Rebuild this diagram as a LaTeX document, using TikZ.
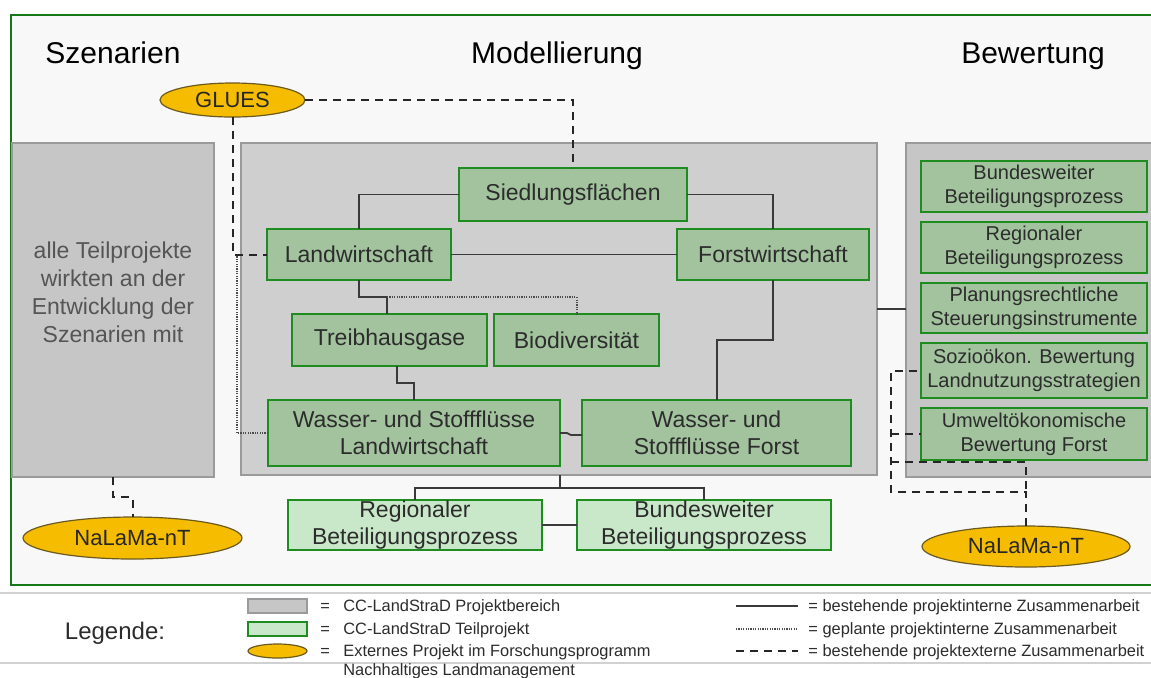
\documentclass[tikz,border=0pt]{standalone}
\usepackage{fontspec}
\setmainfont{Liberation Sans}
\usetikzlibrary{shapes.geometric}
\definecolor{frameg}{HTML}{167816}
\definecolor{bggray}{HTML}{F8F8F8}
\definecolor{boxgray}{HTML}{C6C6C6}
\definecolor{boxline}{HTML}{9A9A9A}
\definecolor{midgreen}{HTML}{A2C39E}
\definecolor{lightgreen}{HTML}{C9E7C9}
\definecolor{gbord}{HTML}{1F8C1F}
\definecolor{gold}{HTML}{F5BC00}
\definecolor{goldline}{HTML}{6B5A1E}
\definecolor{linegray}{HTML}{3A3A3A}
\definecolor{txtgray}{HTML}{2C2C2C}
\definecolor{softtxt}{HTML}{555555}
\newcommand\mybox[7]{%
  \node[#1, minimum width={(#5-#3)*0.5pt}, minimum height={(#6-#4)*0.5pt}]
    (#2) at ({(#3+#5)/2},{(#4+#6)/2}) {#7};}
\tikzset{
  base/.style={inner sep=0pt, outer sep=0pt, rectangle},
  graybox/.style={base, fill=boxgray, draw=boxline, line width=0.9pt},
  gbox/.style={base, fill=midgreen, draw=gbord, line width=1.4pt, text=txtgray,
    align=center, font=\fontsize{11.5}{13.5}\selectfont},
  rbox/.style={gbox, font=\fontsize{10}{12}\selectfont},
  lbox/.style={base, fill=lightgreen, draw=gbord, line width=0.9pt, text=txtgray,
    align=center, font=\fontsize{11.5}{13.5}\selectfont},
  ext/.style={ellipse, inner sep=0pt, outer sep=0pt, fill=gold, draw=goldline,
    line width=0.6pt, text=black!85, font=\fontsize{11}{13}\selectfont},
  heading/.style={anchor=base, text=black, font=\fontsize{15}{18}\selectfont},
  conn/.style={draw=linegray, line width=0.9pt},
  dashconn/.style={draw=black!85, line width=1pt, dash pattern=on 4pt off 3pt},
  dotconn/.style={draw=black!70, line width=1pt, dash pattern=on 0.6pt off 0.6pt},
  legtext/.style={anchor=base west, text=txtgray, font=\fontsize{8.2}{10}\selectfont, inner sep=0pt},
}
\begin{document}
\begin{tikzpicture}[x=0.5pt,y=-0.5pt]
\useasboundingbox (0,0) rectangle (1151,677);
\fill[white] (0,0) rectangle (1151,677);
% frame
\draw[fill=bggray, draw=frameg, line width=1.2pt] (11,15) rectangle (1160,585);
% headings
\node[heading] (h1) at (113,63) {Szenarien};
\node[heading] (h2) at (557,63) {Modellierung};
\node[heading] (h3) at (1033,63) {Bewertung};
% gray areas
\mybox{graybox}{scen}{12}{143}{214}{477}{}
\mybox{graybox, fill=boxgray!85!white}{model}{241}{143}{877}{475}{}
\mybox{graybox}{bew}{906}{143}{1158}{477}{}
\node[text=softtxt, align=center, font=\fontsize{11.5}{14}\selectfont] (scentxt) at (113,292)
  {alle Teilprojekte\\wirkten an der\\Entwicklung der\\Szenarien mit};
% green boxes (Modellierung)
\mybox{gbox}{sied}{459}{168}{687}{221}{Siedlungsflächen}
\mybox{gbox}{land}{267}{229}{451}{280}{Landwirtschaft}
\mybox{gbox}{forst}{677}{229}{869}{280}{Forstwirtschaft}
\mybox{gbox}{treib}{292}{314}{487}{366}{Treibhausgase}
\mybox{gbox}{bio}{494}{314}{659}{366}{Biodiversität}
\mybox{gbox}{wsl}{268}{400}{560}{466}{Wasser- und Stoffflüsse\\Landwirtschaft}
\mybox{gbox}{wsf}{582}{400}{851}{466}{Wasser- und\\Stoffflüsse Forst}
% green boxes (Bewertung)
\mybox{rbox}{rb1}{921}{161}{1147}{212}{Bundesweiter\\Beteiligungsprozess}
\mybox{rbox}{rb2}{921}{222}{1147}{273}{Regionaler\\Beteiligungsprozess}
\mybox{rbox}{rb3}{921}{283}{1147}{333}{Planungsrechtliche\\Steuerungsinstrumente}
\mybox{rbox}{rb4}{921}{343}{1147}{398}{Sozioökon. Bewertung\\Landnutzungsstrategien}
\mybox{rbox}{rb5}{921}{408}{1147}{460}{Umweltökonomische\\Bewertung Forst}
% lower boxes
\mybox{lbox}{reg}{288}{500}{542}{550}{Regionaler\\Beteiligungsprozess}
\mybox{lbox}{bund}{577}{500}{831}{550}{Bundesweiter\\Beteiligungsprozess}
% external projects
\node[ext, minimum width=72.5pt, minimum height=17pt] (glues) at (232.5,100) {GLUES};
\node[ext, minimum width=109.5pt, minimum height=21pt] (nal) at (132.5,538) {NaLaMa-nT};
\node[ext, minimum width=104pt, minimum height=20.5pt] (nar) at (1026,546.5) {NaLaMa-nT};
% solid connectors
\coordinate (j1) at (387,297);
\coordinate (j2a) at (397,383);
\coordinate (j2b) at (414,383);
\coordinate (j3) at (717,340);
\coordinate (j4) at (0,309);
\coordinate (j5) at (560,488);
\draw[conn] (sied.west) -| (land.north);
\draw[conn] (sied.east) -| (forst.north);
\draw[conn] (land.east) -- (forst.west);
\draw[conn] (land.south) |- (j1) -- (j1 |- treib.north);
\draw[conn] (j2a |- treib.south) -- (j2a) -- (j2b) -- (j2b |- wsl.north);
\draw[conn] (wsl.east) -- ++(7,0) -- ++(4,2) -- (wsf.west |- 0,435);
\draw[conn] (forst.south) |- (j3) -- (j3 |- wsf.north);
\draw[conn] (j4 -| model.east) -- (j4 -| bew.west);
\draw[conn] (j5 |- model.south) -- (j5);
\draw[conn] (reg.north) |- (j5) -| (bund.north);
\draw[conn] (reg.east) -- (bund.west);
% dotted connectors
\coordinate (j6) at (237,256);
\draw[dotconn] (j1) -| (bio.north);
\draw[dotconn] (wsl.west) -| (j6);
% dashed connectors
\coordinate (j7) at (113,497);
\coordinate (k1) at (891,492);
\coordinate (k2) at (891,462);
\draw[dashconn] (glues.east) -| (sied.north);
\draw[dashconn] (glues.south) |- (land.west);
\draw[dashconn] (scen.south) -- (j7) -| (nal.north);
\draw[dashconn] (nar.north) |- (k1) |- (rb4.west);
\draw[dashconn] (k1 |- rb5.west) -- (rb5.west);
\draw[dashconn] (k2) -- (nar.north |- k2) -- (nar.north |- k1);
% legend
\coordinate (s1) at (0,593);
\coordinate (s2) at (1151,593);
\coordinate (s3) at (0,663);
\coordinate (s4) at (1151,663);
\draw[black!18, line width=0.8pt] (s1) -- (s2);
\draw[black!18, line width=0.8pt] (s3) -- (s4);
\node[text=txtgray, font=\fontsize{12}{14}\selectfont] (legende) at (115,633) {Legende:};
\mybox{graybox, line width=0.6pt}{lg1}{248}{599}{307}{613}{}
\mybox{lbox, line width=0.9pt}{lg2}{248}{622}{307}{636}{}
\node[ext, minimum width=29.5pt, minimum height=7pt] (lg3) at (277.5,651) {};
\node[legtext] (e1) at (320,611) {=};
\node[legtext] (e2) at (320,634) {=};
\node[legtext] (e3) at (320,656) {=};
\node[legtext] (t1) at (343,611) {CC-LandStraD Projektbereich};
\node[legtext] (t2) at (343,634) {CC-LandStraD Teilprojekt};
\node[legtext] (t3) at (343,656) {Externes Projekt im Forschungsprogramm};
\node[legtext] (t4) at (343,675) {Nachhaltiges Landmanagement};
\coordinate (m1a) at (736,606); \coordinate (m1b) at (798,606);
\coordinate (m2a) at (736,629); \coordinate (m2b) at (798,629);
\coordinate (m3a) at (736,651); \coordinate (m3b) at (798,651);
\draw[conn] (m1a) -- (m1b);
\draw[dotconn, line width=0.8pt] (m2a) -- (m2b);
\draw[dashconn] (m3a) -- (m3b);
\node[legtext] (r1) at (808,611) {= bestehende projektinterne Zusammenarbeit};
\node[legtext] (r2) at (808,634) {= geplante projektinterne Zusammenarbeit};
\node[legtext] (r3) at (808,656) {= bestehende projektexterne Zusammenarbeit};
\end{tikzpicture}
\end{document}
